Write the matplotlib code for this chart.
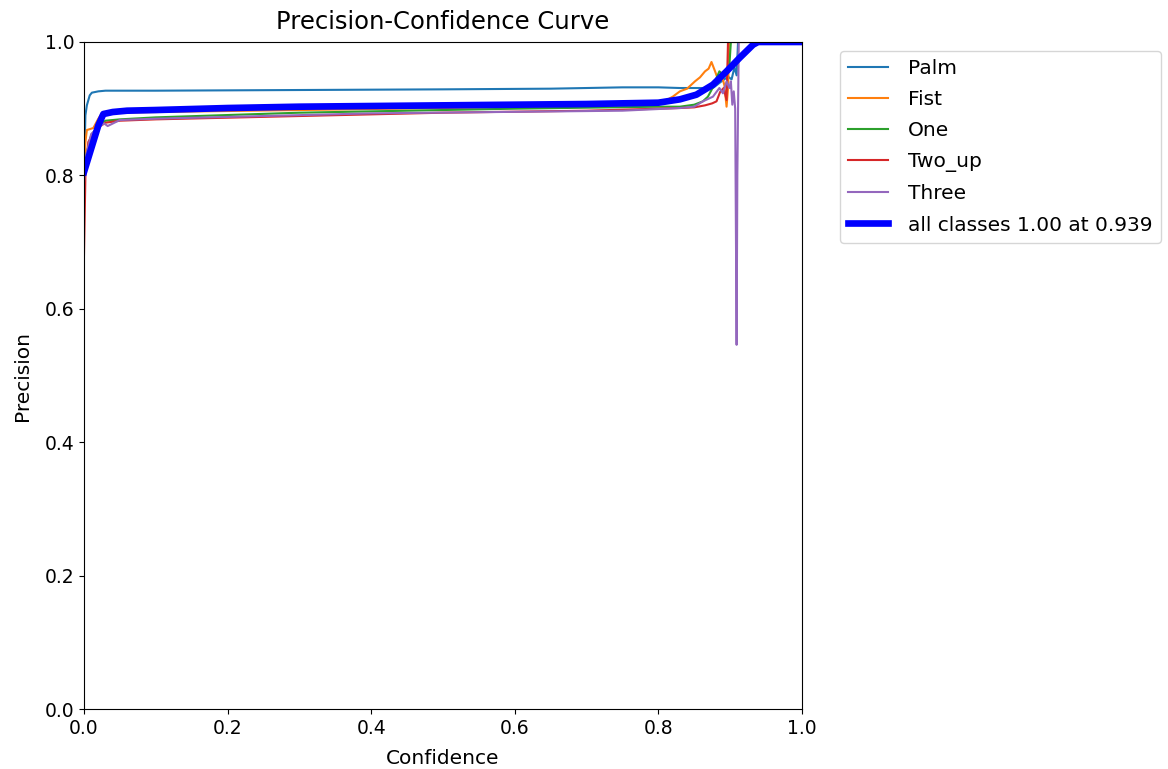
import matplotlib
matplotlib.use("Agg")
import matplotlib.pyplot as plt

# per-class precision vs confidence
palm_x = [0.0, 0.002, 0.004, 0.008, 0.011, 0.02, 0.03, 0.1, 0.3, 0.5, 0.65, 0.75, 0.8, 0.83, 0.85, 0.876,
          0.888, 0.897, 0.902, 0.906, 0.909, 0.911, 1.0]
palm_y = [0.80, 0.89, 0.905, 0.92, 0.924, 0.926, 0.927, 0.927, 0.928, 0.929, 0.930, 0.932, 0.932, 0.931, 0.931,
          0.931, 0.941, 0.948, 0.944, 0.962, 0.950, 1.0, 1.0]

fist_x = [0.0, 0.002, 0.004, 0.013, 0.02, 0.025, 0.04, 0.1, 0.3, 0.5, 0.7, 0.8, 0.82, 0.83, 0.84, 0.851, 0.858,
          0.865, 0.87, 0.874, 0.879, 0.884, 0.888, 0.892, 0.895, 0.897, 0.899, 1.0]
fist_y = [0.80, 0.85, 0.868, 0.871, 0.885, 0.893, 0.894, 0.895, 0.898, 0.901, 0.904, 0.906, 0.918, 0.926, 0.930,
          0.941, 0.947, 0.956, 0.960, 0.970, 0.956, 0.941, 0.951, 0.935, 0.903, 0.93, 1.0, 1.0]

one_x = [0.0, 0.003, 0.01, 0.02, 0.03, 0.05, 0.1, 0.3, 0.6, 0.8, 0.83, 0.85, 0.862, 0.869, 0.875, 0.881, 0.885,
         0.892, 0.897, 0.899, 0.901, 1.0]
one_y = [0.78, 0.83, 0.86, 0.875, 0.882, 0.884, 0.887, 0.894, 0.900, 0.903, 0.903, 0.906, 0.911, 0.918, 0.930,
         0.946, 0.956, 0.949, 0.955, 0.966, 1.0, 1.0]

two_up_x = [0.0, 0.002, 0.006, 0.012, 0.02, 0.03, 0.05, 0.1, 0.3, 0.5, 0.7, 0.8, 0.83, 0.85, 0.865, 0.875,
            0.881, 0.886, 0.891, 0.895, 0.897, 1.0]
two_up_y = [0.68, 0.80, 0.85, 0.862, 0.872, 0.879, 0.882, 0.884, 0.889, 0.894, 0.897, 0.900, 0.901, 0.902,
            0.905, 0.908, 0.911, 0.925, 0.931, 0.913, 1.0, 1.0]

three_x = [0.0, 0.003, 0.01, 0.02, 0.028, 0.033, 0.05, 0.1, 0.4, 0.75, 0.83, 0.85, 0.862, 0.876, 0.885, 0.89,
           0.895, 0.899, 0.901, 0.903, 0.905, 0.907, 0.909, 0.910, 0.912, 1.0]
three_y = [0.79, 0.83, 0.862, 0.872, 0.878, 0.874, 0.883, 0.885, 0.893, 0.897, 0.901, 0.903, 0.911, 0.918,
           0.931, 0.923, 0.941, 0.931, 0.941, 0.906, 0.926, 0.90, 0.546, 0.80, 1.0, 1.0]

all_x = [0.0, 0.01, 0.02, 0.027, 0.04, 0.06, 0.1, 0.2, 0.3, 0.5, 0.7, 0.8, 0.83, 0.853, 0.876, 0.895, 0.913,
         0.932, 0.939, 1.0]
all_y = [0.805, 0.84, 0.875, 0.892, 0.895, 0.897, 0.898, 0.901, 0.903, 0.905, 0.907, 0.909, 0.914, 0.921,
         0.936, 0.956, 0.976, 0.996, 1.0, 1.0]

names = ["Palm", "Fist", "One", "Two_up", "Three"]
xs = [palm_x, fist_x, one_x, two_up_x, three_x]
ys = [palm_y, fist_y, one_y, two_up_y, three_y]

plt.rcParams['font.size'] = 14.5
plt.rcParams['xtick.labelsize'] = 13.5
plt.rcParams['ytick.labelsize'] = 13.5
fig = plt.figure(figsize=(11.68, 7.69), dpi=100)
ax = fig.add_axes([0.0719, 0.078, 0.6147, 0.8674])

for name, x, y in zip(names, xs, ys):
    ax.plot(x, y, linewidth=1.5, label=name)
ax.plot(all_x, all_y, linewidth=4.8, color='blue', label='all classes 1.00 at 0.939')

ax.set_xlim(0, 1)
ax.set_ylim(0, 1)
ax.set_xlabel('Confidence', labelpad=8)
ax.set_ylabel('Precision', labelpad=9)
ax.set_title('Precision-Confidence Curve', fontsize=17.5, pad=9)
ax.legend(bbox_to_anchor=(1.04, 1), loc='upper left', borderaxespad=0.45, labelspacing=0.6,
          handletextpad=1.0)

fig.savefig('out.png', dpi=100)
